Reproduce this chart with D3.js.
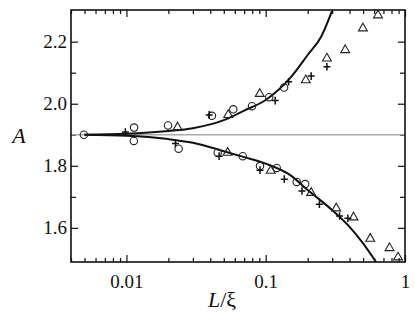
<html>
<head>
<script src="https://d3js.org/d3.v7.min.js"></script>
<style>
  body { margin: 0; background: #fff; }
  svg, svg text, svg tspan { font-family: "Liberation Serif", "Times New Roman", Tinos, serif !important; }
</style>
</head>
<body>
<svg width="415" height="319"></svg>
<script>
// reference level and tick values
const baseline = 1.9;
const xMajor = [0.01, 0.1, 1];
const yMajor = [1.6, 1.8, 2.0, 2.2];
const yMinor = [1.7, 1.9, 2.1];

// theory curves [L/xi, A]
const upperCurve = [[0.005, 1.9], [0.01, 1.903], [0.02, 1.912], [0.03, 1.921], [0.05, 1.947],
  [0.07, 1.978], [0.1, 2.012], [0.15, 2.083], [0.2, 2.157], [0.25, 2.216], [0.3, 2.3]];
const lowerCurve = [[0.005, 1.9], [0.01, 1.897], [0.02, 1.886], [0.03, 1.874], [0.05, 1.847],
  [0.07, 1.828], [0.1, 1.807], [0.15, 1.77], [0.2, 1.722], [0.3, 1.657], [0.4, 1.603],
  [0.5, 1.55], [0.62, 1.49]];

// measured points
const circles = [[0.00495, 1.9], [0.01135, 1.923], [0.0113, 1.88], [0.0199, 1.93], [0.0237, 1.855],
  [0.0411, 1.961], [0.0585, 1.982], [0.0797, 1.992], [0.106, 2.021], [0.1355, 2.052],
  [0.0452, 1.842], [0.0684, 1.831], [0.091, 1.799], [0.12, 1.793], [0.167, 1.748], [0.192, 1.741]];
const triangles = [[0.0233, 1.924], [0.0538, 1.964], [0.0906, 2.032], [0.194, 2.076], [0.275, 2.146],
  [0.372, 2.173], [0.499, 2.243], [0.64, 2.285],
  [0.0533, 1.842], [0.1087, 1.784], [0.212, 1.713], [0.321, 1.663], [0.427, 1.634],
  [0.563, 1.565], [0.774, 1.535], [0.891, 1.505]];
const crosses = [[0.00983, 1.909], [0.0393, 1.964], [0.117, 2.01], [0.146, 2.071], [0.212, 2.089],
  [0.275, 2.119], [0.0225, 1.872], [0.0463, 1.831], [0.091, 1.786], [0.136, 1.757],
  [0.182, 1.719], [0.243, 1.676], [0.339, 1.638], [0.389, 1.631]];

const mLeft = 71, mRight = 405, mTop = 10, mBottom = 262;
const x = d3.scaleLog().domain([0.004, 1]).range([mLeft, mRight]);
const y = d3.scaleLinear().domain([1.49, 2.302]).range([mBottom, mTop]);

const svg = d3.select('svg');

svg.append('clipPath').attr('id', 'plot')
  .append('rect').attr('x', mLeft).attr('y', mTop)
  .attr('width', mRight - mLeft).attr('height', mBottom - mTop);

const xMinor = [];
[0.001, 0.01, 0.1].forEach(d => { for (let k = 2; k <= 9; k++) { const v = d * k; if (v >= 0.004 && v < 1) xMinor.push(v); } });

function strip(g) {
  g.attr('font-family', null).attr('font-size', null);
  g.select('.domain').remove();
  g.selectAll('line').attr('stroke', '#111').attr('stroke-width', 1.2);
  g.selectAll('text').attr('fill', '#111').style('font-size', '19px');
}

// x axes (inward ticks bottom + top)
svg.append('g').attr('transform', `translate(0,${mBottom})`)
  .call(d3.axisBottom(x).tickValues(xMajor).tickSize(-7).tickPadding(13).tickFormat(d => d === 1 ? '1' : d))
  .call(strip);
svg.append('g').attr('transform', `translate(0,${mBottom})`)
  .call(d3.axisBottom(x).tickValues(xMinor).tickSize(-4).tickFormat(''))
  .call(strip);
svg.append('g').attr('transform', `translate(0,${mTop})`)
  .call(d3.axisTop(x).tickValues(xMajor).tickSize(-7).tickFormat(''))
  .call(strip);
svg.append('g').attr('transform', `translate(0,${mTop})`)
  .call(d3.axisTop(x).tickValues(xMinor).tickSize(-4).tickFormat(''))
  .call(strip);

// y axes
svg.append('g').attr('transform', `translate(${mLeft},0)`)
  .call(d3.axisLeft(y).tickValues(yMajor).tickSize(-7).tickPadding(4).tickFormat(d3.format('.1f')))
  .call(strip);
svg.append('g').attr('transform', `translate(${mLeft},0)`)
  .call(d3.axisLeft(y).tickValues(yMinor).tickSize(-5).tickFormat(''))
  .call(strip);
svg.append('g').attr('transform', `translate(${mRight},0)`)
  .call(d3.axisRight(y).tickValues(yMajor).tickSize(-7).tickFormat(''))
  .call(strip);
svg.append('g').attr('transform', `translate(${mRight},0)`)
  .call(d3.axisRight(y).tickValues(yMinor).tickSize(-5).tickFormat(''))
  .call(strip);

// reference line
svg.append('line')
  .attr('x1', mLeft).attr('x2', mRight)
  .attr('y1', y(baseline)).attr('y2', y(baseline))
  .attr('stroke', '#aaa').attr('stroke-width', 1.5);

const plot = svg.append('g').attr('clip-path', 'url(#plot)');

const line = d3.line().x(d => x(d[0])).y(d => y(d[1])).curve(d3.curveMonotoneX);
[upperCurve, lowerCurve].forEach(c => {
  plot.append('path').attr('d', line(c)).attr('fill', 'none')
    .attr('stroke', '#111').attr('stroke-width', 2);
});

plot.selectAll('circle.pt').data(circles).join('circle')
  .attr('class', 'pt')
  .attr('cx', d => x(d[0])).attr('cy', d => y(d[1])).attr('r', 3.7)
  .attr('fill', 'none').attr('stroke', '#222').attr('stroke-width', 1.1);

const tri = d3.symbol().type(d3.symbolTriangle).size(34);
plot.selectAll('path.tri').data(triangles).join('path')
  .attr('class', 'tri')
  .attr('d', tri)
  .attr('transform', d => `translate(${x(d[0])},${y(d[1])})`)
  .attr('fill', 'none').attr('stroke', '#222').attr('stroke-width', 1.1);

plot.selectAll('path.cross').data(crosses).join('path')
  .attr('class', 'cross')
  .attr('d', 'M-3.5,0H3.5M0,-3.8V3.8')
  .attr('transform', d => `translate(${x(d[0])},${y(d[1])})`)
  .attr('fill', 'none').attr('stroke', '#111').attr('stroke-width', 1.5);

// frame
svg.append('rect').attr('x', mLeft).attr('y', mTop)
  .attr('width', mRight - mLeft).attr('height', mBottom - mTop)
  .attr('fill', 'none').attr('stroke', '#111').attr('stroke-width', 1.6);

// axis titles
const xt = svg.append('text').attr('x', 222).attr('y', 307)
  .attr('text-anchor', 'middle').attr('fill', '#111')
  .style('font-size', '22px');
xt.append('tspan').style('font-style', 'italic').text('L');
xt.append('tspan').text('/ξ');

svg.append('text').attr('x', 19).attr('y', 143)
  .attr('text-anchor', 'middle').attr('fill', '#111')
  .style('font-size', '22px')
  .style('font-style', 'italic').text('A');
</script>
</body>
</html>
